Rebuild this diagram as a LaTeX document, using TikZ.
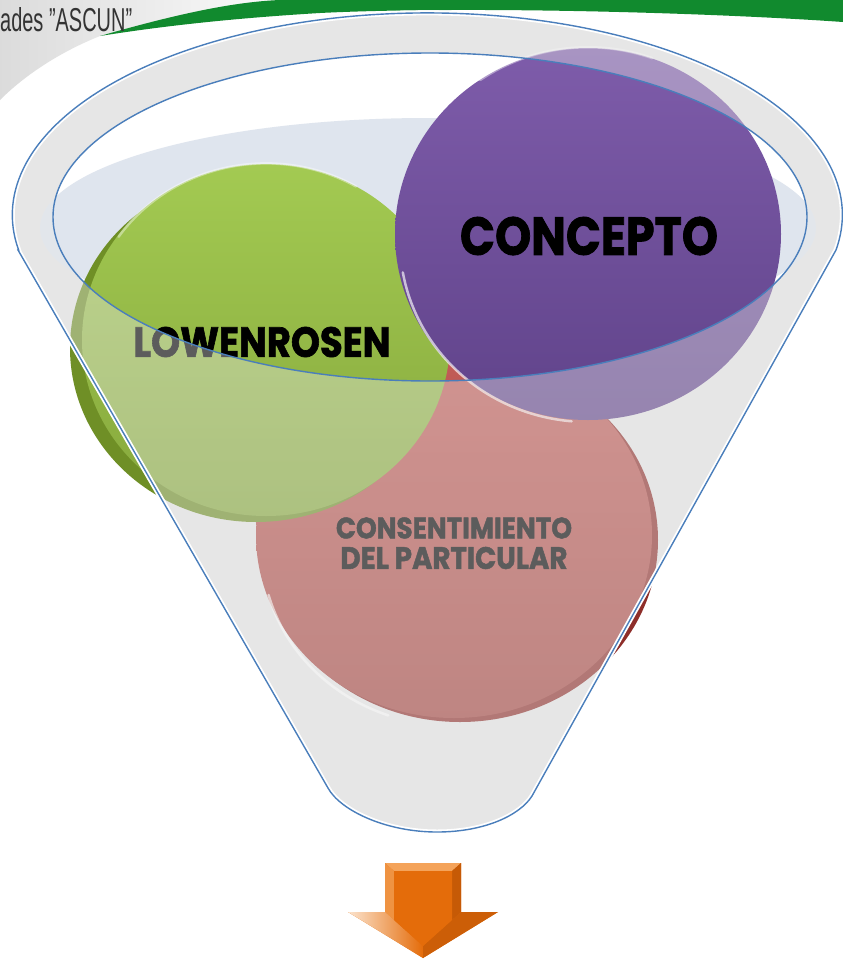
\documentclass[tikz,border=0pt]{standalone}
\usepackage{graphicx}
\usepackage{fontspec}
\setmainfont{Liberation Sans}
\newfontfamily\heavy{Poppins}[FakeBold=1.6]
\usetikzlibrary{shadings}
\definecolor{funback}{HTML}{E6E6E6}
\definecolor{funblue}{HTML}{4A7EBB}
\definecolor{backell}{HTML}{DFE5EE}
\definecolor{ovl}{HTML}{E8E8E8}
\definecolor{grtop}{HTML}{A3CA52}
\definecolor{grbot}{HTML}{86A83C}
\definecolor{grdark}{HTML}{6F8F26}
\definecolor{putop}{HTML}{7E5CAA}
\definecolor{pubot}{HTML}{60438A}
\definecolor{retop}{HTML}{C25C57}
\definecolor{rebot}{HTML}{A3443F}
\definecolor{redark}{HTML}{8E2E2A}
\definecolor{ascgreen}{HTML}{118A2E}
\definecolor{orangeA}{HTML}{E46C0A}
\definecolor{orangeL}{HTML}{F4A35A}
\definecolor{orangeD}{HTML}{C65A06}
\tikzset{
  rimline/.style={draw=funblue, line width=1.4pt},
  glow/.style={draw=white, line width=5pt},
  bigtext/.style={inner sep=0pt, text=black},
  gloss/.style={draw=white, line width=2.5pt, opacity=0.65, line cap=round}
}
\def\funnelpath{(18,250) -- (328,788) .. controls (340,810) and (385,832) .. (437,832) .. controls (485,832) and (520,815) .. (532,796) -- (836,250) arc[start angle=10, end angle=-190, x radius=415, y radius=202] -- cycle}
\begin{document}
\begin{tikzpicture}[x=1pt,y=-1pt]
\useasboundingbox (0,0) rectangle (843,959);
\fill[white] (0,0) rectangle (843,959);
% header swooshes
\shade[left color=black!14, right color=white] (0,0) -- (320,0) .. controls (230,8) and (140,26) .. (100,36) .. controls (60,52) and (25,75) .. (0,100) -- cycle;
\fill[ascgreen] (100,36) .. controls (170,16) and (230,2) .. (280,0) -- (843,0) -- (843,22) .. controls (700,12) and (460,6) .. (320,13) .. controls (220,19) and (150,28) .. (100,36) -- cycle;
\node[anchor=base west, inner sep=0pt, text=black!80] (hdr) at (0,31) {\resizebox{132pt}{24pt}{ades \symbol{34}ASCUN\symbol{34}}};
% funnel back
\fill[funback] \funnelpath;
\fill[white] (430,217) ellipse [x radius=377, y radius=164];
\begin{scope}
  \clip \funnelpath;
  \fill[backell] (428,228) ellipse [x radius=388, y radius=110];
\end{scope}
% red circle
\fill[redark] (460,540) ellipse [x radius=198, y radius=182];
\shade[top color=retop, bottom color=rebot] (454,535) ellipse [x radius=198, y radius=183];
\draw[gloss] (454,535) ++(110:192) arc[start angle=110, end angle=165, x radius=192, y radius=177];
% green circle
\fill[grdark] (256,348) ellipse [x radius=186, y radius=174];
\shade[top color=grtop, bottom color=grbot] (266,340) ellipse [x radius=184, y radius=176];
\draw[gloss, opacity=0.4] (266,340) ++(215:180) arc[start angle=215, end angle=300, x radius=180, y radius=172];
% purple circle
\shade[top color=putop, bottom color=pubot] (588,234) ellipse [x radius=193, y radius=186];
\draw[gloss] (588,234) ++(95:188) arc[start angle=95, end angle=170, x radius=188, y radius=181];
\draw[gloss, opacity=0.4] (588,234) ++(235:188) arc[start angle=235, end angle=290, x radius=188, y radius=181];
% texts
\node[bigtext] (concepto) at (589,236) {\resizebox{258pt}{38pt}{\heavy\bfseries CONCEPTO}};
\node[bigtext] (lowen) at (262,342) {\resizebox{257pt}{30pt}{\heavy\bfseries LOWENROSEN}};
\node[bigtext] (cons1) at (454,528) {\resizebox{236pt}{21pt}{\heavy\bfseries CONSENTIMIENTO}};
\node[bigtext] (cons2) at (454,558) {\resizebox{227pt}{22pt}{\heavy\bfseries DEL PARTICULAR}};
% funnel front overlay
\fill[ovl, opacity=0.4, even odd rule] \funnelpath (430,217) ellipse [x radius=377, y radius=164];
% rims
\draw[glow] \funnelpath;
\draw[rimline] \funnelpath;
\draw[rimline] (430,217) ellipse [x radius=377, y radius=164];
% arrow
\fill[orangeA] (385,863) -- (461,863) -- (461,912) -- (498,912) -- (423,958) -- (348,912) -- (385,912) -- cycle;
\fill[orangeL] (385,863) -- (461,863) -- (452,871) -- (394,871) -- cycle;
\fill[orangeL!70!orangeA] (385,863) -- (394,871) -- (394,920) -- (385,912) -- cycle;
\fill[orangeD] (461,863) -- (452,871) -- (452,920) -- (461,912) -- cycle;
\shade[left color=white!70!orangeL, right color=orangeA] (348,912) -- (385,912) -- (394,920) -- (423,946) -- (423,958) -- cycle;
\fill[orangeD!80!orangeA] (498,912) -- (461,912) -- (452,920) -- (423,946) -- (423,958) -- cycle;
\fill[orangeA] (394,871) -- (452,871) -- (452,920) -- (423,946) -- (394,920) -- cycle;
\end{tikzpicture}
\end{document}
